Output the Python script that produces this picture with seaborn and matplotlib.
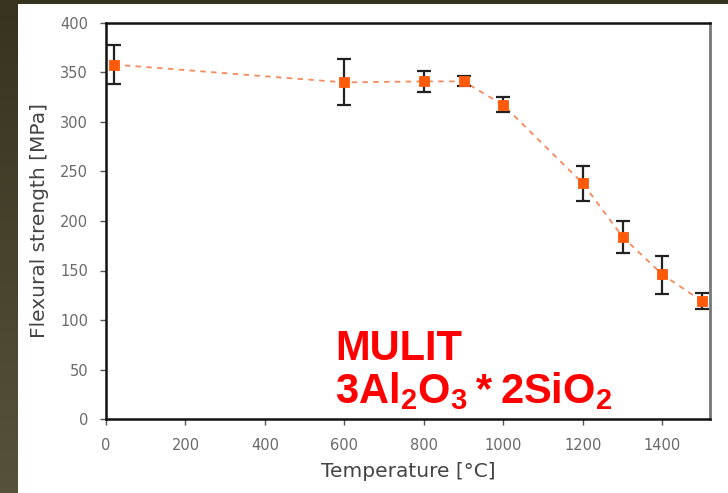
import numpy as np
import pandas as pd
import matplotlib.pyplot as plt
import seaborn as sns
from matplotlib.patches import Rectangle

# dữ liệu
temperature = [20, 600, 800, 900, 1000, 1200, 1300, 1400, 1500]
strength = [358, 340, 341, 341, 317, 238, 184, 146, 119]
err_low = [20, 23, 11, 5, 7, 18, 16, 20, 8]
err_high = [20, 24, 11, 5, 8, 18, 16, 19, 8]
x_ticks = [0, 200, 400, 600, 800, 1000, 1200, 1400]
y_ticks = [0, 50, 100, 150, 200, 250, 300, 350, 400]

df = pd.DataFrame({'Temperature': temperature, 'Strength': strength})

sns.set_style('white')
plt.rcParams['font.family'] = ['DejaVu Sans']
plt.rcParams['mathtext.fontset'] = 'custom'
plt.rcParams['mathtext.bf'] = 'Liberation Sans:bold'
plt.rcParams['mathtext.rm'] = 'Liberation Sans:bold'

fig = plt.figure(figsize=(7.28, 4.93), dpi=100, facecolor='#3e3a27')

# nền tối của slide (chuyển màu từ trên xuống)
bg = fig.add_axes([0, 0, 1, 1], zorder=-20)
bg.imshow(np.linspace(0, 1, 100).reshape(-1, 1), aspect='auto',
          cmap=sns.blend_palette(['#38331f', '#56523a'], as_cmap=True),
          extent=[0, 1, 0, 1], origin='upper')
bg.set_axis_off()
# vùng trắng
fig.patches.append(Rectangle((18 / 728, 0), 1, 489 / 493, transform=fig.transFigure,
                             facecolor='white', edgecolor='none', zorder=-10))

ax = fig.add_axes([106 / 728, 74 / 493, 604 / 728, 396 / 493])
ax.set_facecolor('white')

# đường nối nét đứt
sns.lineplot(data=df, x='Temperature', y='Strength', ax=ax, color='#f78a5c',
             linestyle=(0, (3, 3)), linewidth=1.3, zorder=2)
# thanh sai số
ax.errorbar(temperature, strength, yerr=[err_low, err_high], fmt='none',
            ecolor='#222222', elinewidth=1.6, capsize=5, capthick=1.6, zorder=3)
# điểm dữ liệu
sns.scatterplot(data=df, x='Temperature', y='Strength', ax=ax, marker='s',
                color='#ff5a0a', s=55, edgecolor='#ff5a0a', zorder=4)

ax.set_xlim(0, 1520)
ax.set_ylim(0, 400)
ax.set_xticks(x_ticks)
ax.set_yticks(y_ticks)
ax.tick_params(axis='both', direction='out', length=4, width=1, color='#555555',
               labelsize=10.5, labelcolor='#6a6a6a', left=True, bottom=True)
ax.tick_params(axis='x', pad=10)
ax.tick_params(axis='y', pad=9)

for side in ['left', 'bottom', 'top']:
    ax.spines[side].set_color('#111111')
    ax.spines[side].set_linewidth(1.8)
ax.spines['right'].set_color('#777777')
ax.spines['right'].set_linewidth(2)

ax.set_xlabel('Temperature [°C]', fontsize=14.5, color='#444444', labelpad=6)
ax.set_ylabel('Flexural strength [MPa]', fontsize=14.5, color='#444444', labelpad=8)

# chữ chú thích màu đỏ
fig.text(335 / 728, 1 - 360 / 493, 'MULIT', color='#ff0000', fontsize=30,
         fontweight='bold', family='Liberation Sans', ha='left', va='baseline')
fig.text(335 / 728, 1 - 403 / 493, r'$\mathbf{3Al_2O_3*2SiO_2}$', color='#ff0000',
         fontsize=30, ha='left', va='baseline')

fig.savefig('out.png', dpi=100, facecolor=fig.get_facecolor())
